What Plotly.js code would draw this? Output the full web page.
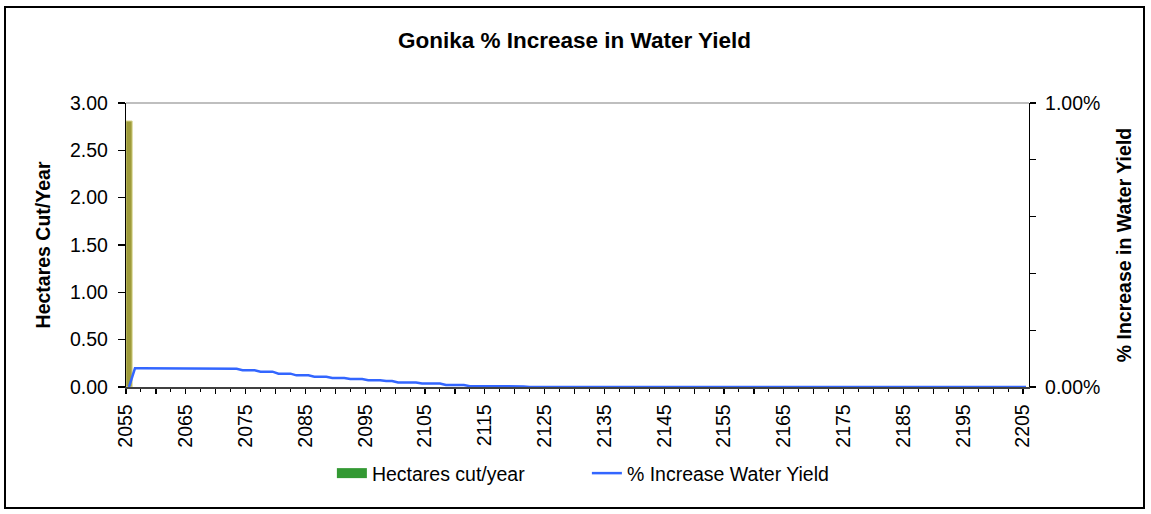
<!DOCTYPE html>
<html>
<head>
<meta charset="utf-8">
<script src="https://cdn.plot.ly/plotly-3.0.1.min.js"></script>
<style>
  html, body { margin: 0; padding: 0; background: #ffffff; }
  #frame { position: absolute; left: 4px; top: 6px; width: 1137px; height: 499px; border: 2px solid #000; background: #fff; }
  #chart { width: 1137px; height: 499px; }
</style>
</head>
<body>
<div id="frame"><div id="chart"></div></div>
<script>
// ---- data ----
const chartTitle = 'Gonika % Increase in Water Yield';
const barName = 'Hectares cut/year';
const lineName = '% Increase Water Yield';

const firstYear = 2055;
const lastYear = 2205;
const years = [];
for (let y = firstYear; y <= lastYear; y++) years.push(y);

// % increase in water yield (percent units), one value per year 2055..2205
const waterYieldPct = [
  0.000,
  0.066, 0.066, 0.066, 0.066, 0.066, 0.066, 0.066, 0.066, 0.066, 0.066, 0.066, 0.066, 0.066, 0.066,
  0.064, 0.064, 0.064, 0.064,
  0.059, 0.059, 0.059,
  0.054, 0.054, 0.054,
  0.047, 0.047, 0.047,
  0.041, 0.041, 0.041,
  0.036, 0.036, 0.036,
  0.032, 0.032, 0.032,
  0.028, 0.028, 0.028,
  0.024, 0.024, 0.024,
  0.021, 0.021,
  0.016, 0.016, 0.016, 0.016,
  0.012, 0.012, 0.012, 0.012,
  0.007, 0.007, 0.007, 0.007,
  0.003, 0.003, 0.003, 0.003, 0.003,
  0.002, 0.002, 0.002, 0.002, 0.002,
  0, 0, 0, 0, 0, 0, 0, 0, 0, 0, 0, 0,
  0, 0, 0, 0, 0, 0, 0, 0, 0, 0, 0, 0,
  0, 0, 0, 0, 0, 0, 0, 0, 0, 0, 0, 0,
  0, 0, 0, 0, 0, 0, 0, 0, 0, 0, 0, 0,
  0, 0, 0, 0, 0, 0, 0, 0, 0, 0, 0, 0,
  0, 0, 0, 0, 0, 0, 0, 0, 0, 0, 0, 0,
  0, 0, 0, 0, 0, 0, 0, 0, 0, 0, 0, 0
];

// hectares cut per year (only one harvest year)
const barYears = [2055];
const hectaresCut = [2.81];

const xTickLabels = ['2055','2065','2075','2085','2095','2105','2115','2125','2135','2145','2155','2165','2175','2185','2195','2205'];
const rightTickVals = [0, 0.2, 0.4, 0.6, 0.8, 1.0];
const rightTickText = ['0.00%', '', '', '', '', '1.00%'];

// ---- build ticks at category boundaries ----
const major5 = [], major5Text = [];
for (let i = 0; i < xTickLabels.length; i++) {
  const yv = parseInt(xTickLabels[i], 10);
  major5.push(yv - 0.5); major5Text.push(xTickLabels[i]);
  if (i < xTickLabels.length - 1) { major5.push(yv + 4.5); major5Text.push(''); }
}

const FONT = 'Liberation Sans, Arial, sans-serif';
const TICK = 19.5;
const xRange = [firstYear - 0.5, lastYear + 0.5];

const traces = [
  {
    type: 'bar', x: barYears, y: hectaresCut, name: barName,
    width: 1.05, xaxis: 'x', yaxis: 'y',
    marker: { color: '#9e9b3a', line: { color: '#d8d690', width: 1 } },
    showlegend: false, hoverinfo: 'x+y'
  },
  {
    // legend swatch only (wide green block as in the original legend)
    type: 'scatter', mode: 'lines', x: [null], y: [null], name: barName,
    line: { color: '#339933', width: 13 }, showlegend: true, xaxis: 'x', yaxis: 'y'
  },
  {
    type: 'scatter', mode: 'lines', x: years, y: waterYieldPct, name: lineName,
    xaxis: 'x', yaxis: 'y2',
    line: { color: '#3366ff', width: 2.5 }, cliponaxis: false
  }
];

const layout = {
  width: 1137, height: 499,
  margin: { l: 120, r: 114, t: 94.5, b: 119.7 },
  paper_bgcolor: '#ffffff', plot_bgcolor: '#ffffff',
  font: { family: FONT, size: TICK, color: '#000' },
  title: { text: '<b>' + chartTitle + '</b>', font: { family: FONT, size: 22.5, color: '#000' },
           x: 0.5, xanchor: 'center', y: 1 - 32/499, yanchor: 'middle', xref: 'container', yref: 'container' },
  showlegend: true,
  legend: { orientation: 'h', x: 0.228, xanchor: 'left', y: -0.3044, yanchor: 'middle',
            font: { family: FONT, size: TICK }, entrywidthmode: 'pixels', entrywidth: 210,
            bgcolor: 'rgba(0,0,0,0)', borderwidth: 0, traceorder: 'normal' },
  bargap: 0,
  xaxis: {
    range: xRange, autorange: false, showgrid: false, zeroline: false,
    showline: true, linecolor: '#404040', linewidth: 1.5,
    tickmode: 'array', tickvals: major5, ticktext: major5Text,
    ticks: 'outside', ticklen: 5, tickwidth: 1.2, tickcolor: '#000',
    minor: { tick0: firstYear - 0.5, dtick: 2.5, ticks: 'outside', ticklen: 3, tickwidth: 1, tickcolor: '#000' },
    tickangle: -90, tickfont: { family: FONT, size: TICK, color: '#000' }, ticklabelstandoff: 3,
    anchor: 'y'
  },
  xaxis2: {
    range: xRange, autorange: false, overlaying: 'x', anchor: 'y', side: 'bottom',
    showgrid: false, zeroline: false, showline: false,
    tickmode: 'array', tickvals: major5, showticklabels: false,
    ticks: 'inside', ticklen: 5, tickwidth: 1.2, tickcolor: '#000'
  },
  yaxis: {
    range: [0, 3], autorange: false, dtick: 0.5, tick0: 0, tickformat: '.2f',
    showgrid: false, zeroline: false,
    showline: true, linecolor: '#000', linewidth: 1.2,
    ticks: 'outside', ticklen: 7, tickwidth: 1.2, tickcolor: '#000',
    tickfont: { family: FONT, size: TICK, color: '#000' }, ticklabelstandoff: 6,
    title: { text: '<b>Hectares Cut/Year</b>', font: { family: FONT, size: 19.5, color: '#000' }, standoff: 14 },
    anchor: 'x'
  },
  yaxis2: {
    range: [0, 1], autorange: false, overlaying: 'y', side: 'right', anchor: 'x',
    showgrid: false, zeroline: false,
    showline: true, linecolor: '#000', linewidth: 1.2,
    tickmode: 'array', tickvals: rightTickVals, ticktext: rightTickText,
    ticks: 'outside', ticklen: 6, tickwidth: 1.2, tickcolor: '#000',
    tickfont: { family: FONT, size: TICK, color: '#000' }, ticklabelstandoff: 5,
    title: { text: '<b>% Increase in Water Yield</b>', font: { family: FONT, size: 19.5, color: '#000' }, standoff: 18 }
  },
  yaxis3: {
    range: [0, 1], autorange: false, overlaying: 'y', side: 'right', anchor: 'x',
    showgrid: false, zeroline: false, showline: false,
    tickmode: 'array', tickvals: rightTickVals, showticklabels: false,
    ticks: 'inside', ticklen: 6, tickwidth: 1.2, tickcolor: '#000'
  },
  shapes: [
    { type: 'line', xref: 'x domain', yref: 'y domain', x0: 0, x1: 1, y0: 1, y1: 1,
      line: { color: '#808080', width: 1.2 }, layer: 'below' }
  ]
};

Plotly.newPlot('chart', traces, layout, { displayModeBar: false, staticPlot: true });
</script>
</body>
</html>
